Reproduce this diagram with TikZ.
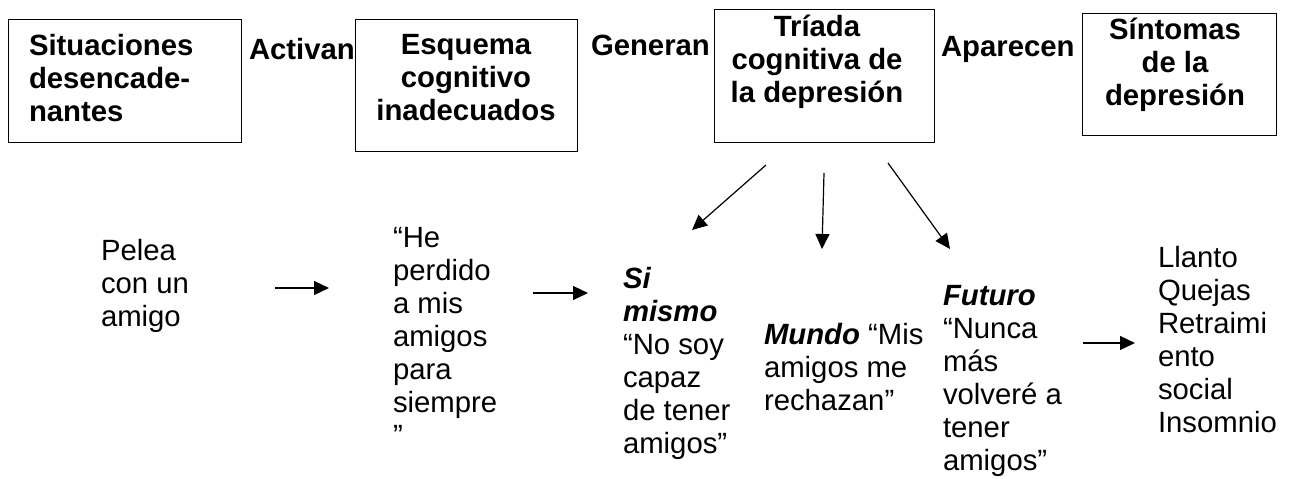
\documentclass[tikz,border=0pt]{standalone}
\usepackage{fontspec}
\setmainfont{Liberation Sans}
\usetikzlibrary{arrows.meta}
\newcommand{\myL}[1]{\begin{tabular}[t]{@{}l@{}}#1\end{tabular}}
\newcommand{\myC}[1]{\begin{tabular}[t]{@{}c@{}}#1\end{tabular}}
\begin{document}
\begin{tikzpicture}[x=1pt,y=-1pt,
  every node/.style={inner sep=0pt,outer sep=0pt},
  txt/.style={anchor=base west,font=\fontsize{29.3}{33}\selectfont},
  ctxt/.style={anchor=base,font=\fontsize{29.3}{33}\selectfont\bfseries},
  lbl/.style={anchor=base west,font=\fontsize{29.3}{33}\selectfont\bfseries},
  boxn/.style={draw,line width=1pt},
  arr/.style={line width=1.2pt,-{Triangle[length=15pt,width=14pt]}}]
\useasboundingbox (0,0) rectangle (1301,479);
% boxes
\node[boxn,minimum width=233pt,minimum height=123pt] (b1) at (124.5,80.5) {};
\node[boxn,minimum width=222pt,minimum height=132pt] (b2) at (466,85) {};
\node[boxn,minimum width=220pt,minimum height=133pt] (b3) at (824,75.5) {};
\node[boxn,minimum width=194pt,minimum height=122pt] (b4) at (1179,74) {};
% box texts
\node[lbl] (t1) at (29,55) {\myL{Situaciones\\desencade-\\nantes}};
\node[ctxt] (t2) at (466,54.5) {\myC{Esquema\\cognitivo\\inadecuados}};
\node[ctxt] (t3) at (817,36) {\myC{Tríada\ \\cognitiva de\\la depresión}};
\node[ctxt] (t4) at (1175,39) {\myC{Síntomas\\de la\\depresión}};
% labels between boxes
\node[lbl] (l1) at (249,59) {Activan};
\node[lbl] (l2) at (591,55) {Generan};
\node[lbl] (l3) at (941,56.5) {Aparecen};
% bottom texts
\node[txt] (pelea) at (101,260) {\myL{Pelea\\con un\\amigo}};
\node[txt] (perdido) at (393,247) {\myL{“He\\perdido\\a mis\\amigos\\para\\siempre\\”}};
\node[txt] (simismo) at (623,288) {\myL{\textbf{\textit{Si}}\\\textbf{\textit{mismo}}\\“No soy\\capaz\\de tener\\amigos”}};
\node[txt] (mundo) at (764,344) {\myL{\textbf{\textit{Mundo}} “Mis\\amigos me\\rechazan”}};
\node[txt] (futuro) at (943,305) {\myL{\textbf{\textit{Futuro}}\\“Nunca\\más\\volveré a\\tener\\amigos”}};
\node[txt] (llanto) at (1158,267) {\myL{Llanto\\Quejas\\Retraimi\\ento\\social\\Insomnio}};
% arrow end points
\coordinate (a1s) at (275,288);
\coordinate (a1e) at (329,288);
\coordinate (a2s) at (533,293);
\coordinate (a2e) at (588,293);
\coordinate (a3s) at (1083,343);
\coordinate (a3e) at (1135,343);
\coordinate (d1s) at (766,165);
\coordinate (d1e) at (692,230);
\coordinate (d2s) at (824,173);
\coordinate (d2e) at (822,249);
\coordinate (d3s) at (888,163);
\coordinate (d3e) at (950,249);
\draw[arr] (a1s) -- (a1e);
\draw[arr] (a2s) -- (a2e);
\draw[arr] (a3s) -- (a3e);
\draw[arr] (d1s) -- (d1e);
\draw[arr] (d2s) -- (d2e);
\draw[arr] (d3s) -- (d3e);
\end{tikzpicture}
\end{document}
